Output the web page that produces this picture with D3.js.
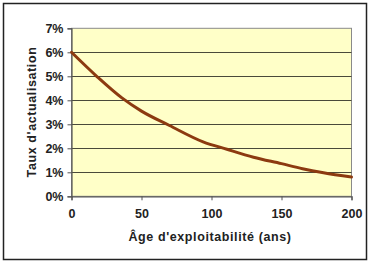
<!DOCTYPE html>
<html>
<head>
<meta charset="utf-8">
<script src="https://cdn.jsdelivr.net/npm/d3@7"></script>
<style>
  body { margin: 0; background: #fff; }
  svg text { font-family: "Liberation Sans", Arial, sans-serif; font-weight: bold; fill: #222; }
</style>
</head>
<body>
<script>
// valeurs
const ages = [0, 18, 36, 50, 70, 94, 111, 130, 150, 165, 180, 200];
const taux = [6.0, 5.0, 4.1, 3.55, 2.95, 2.27, 1.96, 1.63, 1.36, 1.15, 0.98, 0.8];
const xTicks = [0, 50, 100, 150, 200];
const yTicks = [0, 1, 2, 3, 4, 5, 6, 7];

const W = 369, H = 265;
const svg = d3.select("body").append("svg")
  .attr("width", W).attr("height", H);

// cadre extérieur
svg.append("rect")
  .attr("x", 3.5).attr("y", 3.5)
  .attr("width", 363).attr("height", 256)
  .attr("fill", "#fff").attr("stroke", "#222").attr("stroke-width", 1.5);

const x = d3.scaleLinear().domain([0, 200]).range([71.5, 351.5]);
const y = d3.scaleLinear().domain([0, 7]).range([196.3, 28.3]);

// zone de tracé
svg.append("rect")
  .attr("x", x(0)).attr("y", y(7))
  .attr("width", x(200) - x(0)).attr("height", y(0) - y(7))
  .attr("fill", "#ffffc8").attr("stroke", "#8a8a8a").attr("stroke-width", 1);

// quadrillage
svg.append("g").selectAll("line")
  .data(yTicks.filter(d => d > 0 && d < 7))
  .join("line")
  .attr("x1", x(0)).attr("x2", x(200))
  .attr("y1", d => Math.round(y(d)) + 0.5).attr("y2", d => Math.round(y(d)) + 0.5)
  .attr("stroke", "#4a4a3a").attr("stroke-width", 1.2);

// axes
const yAxis = svg.append("g")
  .attr("transform", `translate(${x(0)},0)`)
  .call(d3.axisLeft(y).tickValues(yTicks).tickFormat(d => d + "%").tickSize(4).tickPadding(4));
const xAxis = svg.append("g")
  .attr("transform", `translate(0,${y(0)})`)
  .call(d3.axisBottom(x).tickValues(xTicks).tickSize(4).tickPadding(9));
[yAxis, xAxis].forEach(g => {
  g.select(".domain").attr("stroke", "#555").attr("stroke-width", 1.2);
  g.selectAll(".tick line").attr("stroke", "#555");
  g.selectAll("text").attr("font-size", 12.5).attr("fill", "#222");
});

// courbe
const pts = ages.map((a, i) => [a, taux[i]]);
svg.append("path")
  .datum(pts)
  .attr("fill", "none")
  .attr("stroke", "#8c3a10")
  .attr("stroke-width", 3)
  .attr("stroke-linecap", "round")
  .attr("d", d3.line().x(d => x(d[0])).y(d => y(d[1])).curve(d3.curveMonotoneX));

// titres des axes
svg.append("text")
  .attr("x", 210).attr("y", 241)
  .attr("text-anchor", "middle").attr("font-size", 12.5)
  .attr("letter-spacing", 0.6)
  .text("Âge d'exploitabilité (ans)");
svg.append("text")
  .attr("transform", "translate(36,112) rotate(-90)")
  .attr("text-anchor", "middle").attr("font-size", 12.5)
  .attr("letter-spacing", 0.6)
  .text("Taux d'actualisation");
</script>
</body>
</html>
